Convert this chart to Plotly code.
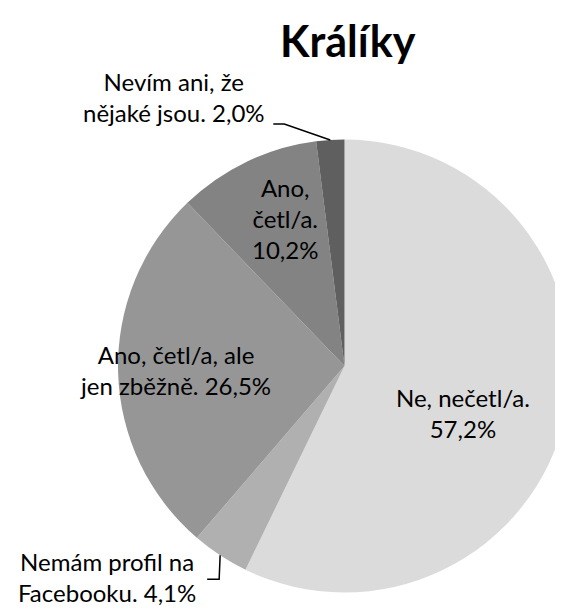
import math
import plotly.graph_objects as go

# ---- data ----
categories = ["Ne, nečetl/a.", "Nemám profil na Facebooku.", "Ano, četl/a, ale jen zběžně.",
              "Ano, četl/a.", "Nevím ani, že nějaké jsou."]
values = [57.2, 4.1, 26.5, 10.2, 2.0]
label_texts = ["Ne, nečetl/a.<br>57,2%", "Nemám profil na<br>Facebooku. 4,1%",
               "Ano, četl/a, ale<br>jen zběžně. 26,5%", "Ano,<br>četl/a.<br>10,2%",
               "Nevím ani, že<br>nějaké jsou. 2,0%"]
title_text = "Králíky"

# ---- style / layout ----
colors = ["#DBDBDB", "#B0B0B0", "#969696", "#838383", "#5F5F5F"]
W, H = 563, 609
CX, CY, R = 336.5, 358.0, 226.5   # pie geometry in px
FONT = "Lato"
FS = 24

# label placements (px): centre of each label block
label_pos = [(455, 405), (99, 569), (167, 362), (277, 210), (166, 89)]
# leader offsets for outside labels: (index, elbow offset, end offset)
leaders = {1: ((-1, 24), (-12, 0)), 4: ((-46, -16), (-11, 0))}


def px(x):
    return x / W


def py(y):
    return 1 - y / H


fig = go.Figure(go.Pie(
    labels=categories, values=values, sort=False, direction="clockwise", rotation=0,
    marker=dict(colors=colors, line=dict(width=0)), textinfo="none", hoverinfo="label+percent",
    showlegend=False,
    domain=dict(x=[px(CX - R), px(CX + R)], y=[py(CY + R), py(CY - R)]),
))

annotations = [dict(text="<b>" + title_text + "</b>", x=px(339.5), y=py(32), xref="paper", yref="paper",
                    xanchor="center", yanchor="middle", showarrow=False,
                    font=dict(family=FONT, size=43, color="#000000"))]
for (lx, ly), t in zip(label_pos, label_texts):
    annotations.append(dict(text=t, x=px(lx), y=py(ly), xref="paper", yref="paper",
                            xanchor="center", yanchor="middle", align="center", showarrow=False,
                            font=dict(family=FONT, size=FS, color="#000000")))

shapes = []
total = sum(values)
cum = 0.0
for i, v in enumerate(values):
    mid = 2 * math.pi * (cum + v / 2) / total
    cum += v
    if i in leaders:
        sx = CX + R * math.sin(mid)
        sy = CY - R * math.cos(mid)
        (ex, ey), (fx, fy) = leaders[i]
        x1, y1 = sx + ex, sy + ey
        x2, y2 = x1 + fx, y1 + fy
        path = f"M {px(sx)} {py(sy)} L {px(x1)} {py(y1)} L {px(x2)} {py(y2)}"
        shapes.append(dict(type="path", path=path, xref="paper", yref="paper",
                           line=dict(color="#000000", width=1.5)))

fig.update_layout(width=W, height=H, margin=dict(l=0, r=0, t=0, b=0),
                  paper_bgcolor="white", plot_bgcolor="white",
                  annotations=annotations, shapes=shapes)
fig.write_html("out.html")
